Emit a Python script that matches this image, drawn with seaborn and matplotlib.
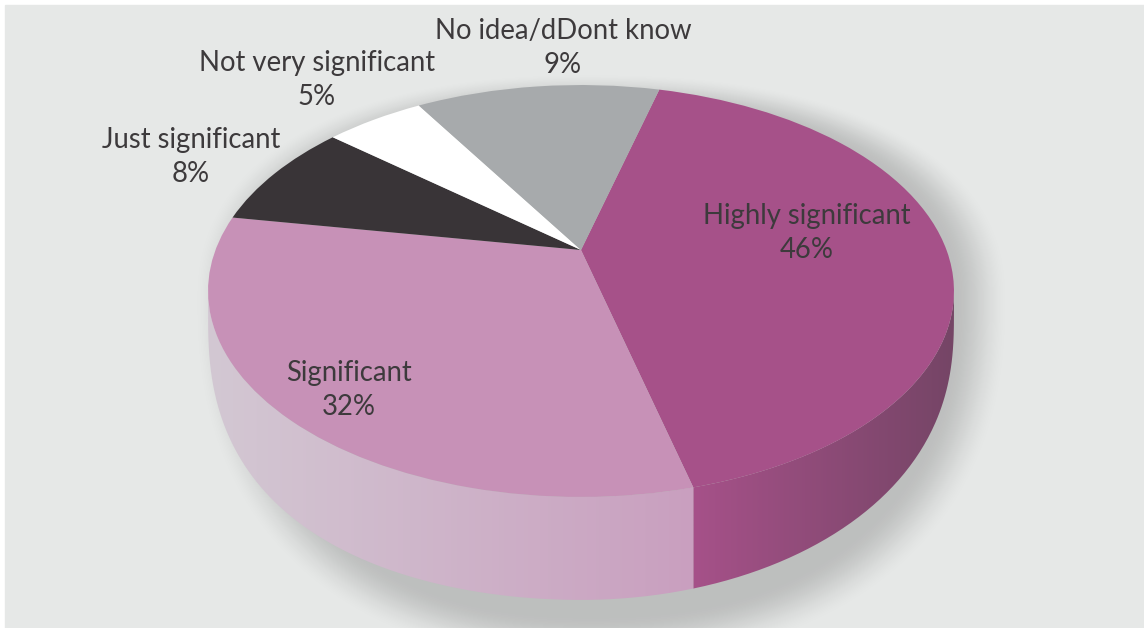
import numpy as np
import matplotlib
matplotlib.use("Agg")
import matplotlib.pyplot as plt
from matplotlib.transforms import Transform
from matplotlib.patches import Rectangle, PathPatch
from matplotlib.path import Path
import seaborn as sns

# ---- data -------------------------------------------------------------
categories = ["Highly significant", "Significant", "Just significant",
              "Not very significant", "No idea/dDont know"]
printed_percent = ["46%", "32%", "8%", "5%", "9%"]
# shares as actually drawn in the picture (measured from the slice edges)
drawn_share = [41.9, 31.7, 8.4, 5.2, 12.8]
top_colors = ["#a65189", "#c791b7", "#393437", "#ffffff", "#a7aaac"]
wall_left = ["#a65189", "#d3c8d3", "#393437", "#ffffff", "#a7aaac"]
wall_right = ["#754566", "#c99fbf", "#393437", "#ffffff", "#a7aaac"]
label_xy = [(807, 233), (349, 390), (191, 157), (317, 80), (563, 48)]

sns.set_theme(style="white")
plt.rcParams["font.family"] = ["Lato", "DejaVu Sans"]

W, H = 1144, 628
fig = plt.figure(figsize=(W / 100, H / 100), dpi=100, facecolor="white")
ax = fig.add_axes([0, 0, 1, 1])

# ---- perspective of the disc -------------------------------------------
CX, APEX_Y, KP, AY, BX = 581.0, 250.0, 0.199, 197.8, 365.5
ELL_Y, ELL_RX, ELL_RY = 291.0, 373.0, 206.0


def project(xy):
    xy = np.asarray(xy, float)
    d = 1 + KP * xy[..., 1]
    return np.stack([CX + BX * xy[..., 0] / d, APEX_Y - AY * xy[..., 1] / d], axis=-1)


class Persp(Transform):
    input_dims = output_dims = 2
    is_separable = False
    has_inverse = False

    def transform_non_affine(self, values):
        return project(values)


wedges, _ = ax.pie(drawn_share, startangle=75.2, counterclock=False,
                   colors=sns.color_palette(top_colors), radius=1.0,
                   wedgeprops={"linewidth": 0, "zorder": 5})
ax.set_aspect("auto")
ax.set_xlim(0, W)
ax.set_ylim(H, 0)
ax.axis("off")
for w in wedges:
    w.set_transform(Persp() + ax.transData)

# ---- panel and soft shadow -----------------------------------------------
ax.add_patch(Rectangle((5, 5), W - 5, H - 5, color="#e6e8e7", zorder=0))
yy, xx = np.mgrid[0:H, 0:W]
sx = np.where(xx > 590, 420.0, 398.0)
sy = np.where(yy > 300, 365.0, 228.0)
p = 2.3
r = (np.abs((xx - 590) / sx) ** p + np.abs((yy - 300) / sy) ** p) ** (1 / p)
t = np.clip((1 - r) / 0.14, 0, 1)
rgba = np.zeros((H, W, 4))
rgba[..., 3] = 0.18 * t * t * (3 - 2 * t)
rgba[:5, :, 3] = 0
rgba[:, :5, 3] = 0
ax.imshow(rgba, extent=(0, W, H, 0), aspect="auto", zorder=1, interpolation="bilinear")
ax.set_xlim(0, W)
ax.set_ylim(H, 0)

# ---- side wall -----------------------------------------------------------
edges = np.cumsum([0] + drawn_share) / 100.0
for i in range(len(drawn_share)):
    th = np.radians(75.2 - 360 * np.linspace(edges[i], edges[i + 1], 300))
    top = project(np.column_stack([np.cos(th), np.sin(th)]))
    s = (top[:, 1] - ELL_Y) / ELL_RY
    keep = s >= 0
    if keep.sum() < 2:
        continue
    top = top[keep]
    s = s[keep]
    depth = 16 + 87 * s ** 0.45 + (top[:, 0] < CX) * 40 * s * (1 - s)
    low = np.column_stack([top[:, 0], top[:, 1] + depth])
    poly = np.vstack([top, low[::-1], top[:1]])
    x0, x1 = poly[:, 0].min(), poly[:, 0].max()
    c0 = np.array(matplotlib.colors.to_rgb(wall_left[i]))
    c1 = np.array(matplotlib.colors.to_rgb(wall_right[i]))
    grad = np.linspace(0, 1, 256)[None, :, None] * (c1 - c0) + c0
    patch = PathPatch(Path(poly), fc="none", ec="none", transform=ax.transData)
    ax.add_patch(patch)
    im = ax.imshow(grad, extent=(x0, x1, poly[:, 1].max(), poly[:, 1].min()),
                   aspect="auto", zorder=3, interpolation="bilinear")
    im.set_clip_path(patch)
ax.set_xlim(0, W)
ax.set_ylim(H, 0)

# ---- labels --------------------------------------------------------------
for name, pct, (lx, ly) in zip(categories, printed_percent, label_xy):
    ax.text(lx, ly, f"{name}\n{pct}", ha="center", va="center", fontsize=19.8,
            color="#3d3a3c", linespacing=1.42, zorder=8)

fig.savefig("out.png", dpi=100, facecolor="white")
